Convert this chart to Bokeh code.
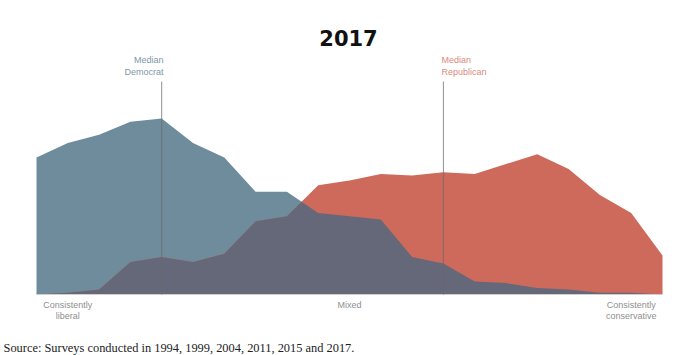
import numpy as np
from bokeh.plotting import figure
from bokeh.models import Label, Range1d
from bokeh.embed import file_html
from bokeh.resources import INLINE

# Ideological consistency scale (-10 = consistently liberal, +10 = consistently conservative)
scale = list(range(-10, 11))
# Share of each party at each scale point (%), 2017
democrats = [8.4, 9.3, 9.8, 10.6, 10.8, 9.3, 8.4, 6.3, 6.3, 5.0, 4.8, 4.6, 2.3, 1.9, 0.8, 0.7, 0.4, 0.3, 0.1, 0.1, 0.0]
republicans = [0.0, 0.1, 0.3, 2.0, 2.3, 2.0, 2.5, 4.5, 4.8, 6.7, 7.0, 7.4, 7.3, 7.5, 7.4, 8.0, 8.6, 7.7, 6.1, 5.0, 2.4]
median_dem = -6
median_rep = 3
title = "2017"
source = "Source: Surveys conducted in 1994, 1999, 2004, 2011, 2015 and 2017."

DEM = "#6f8c9d"
REP = "#cd6a5c"
BOTH = "#656878"

W, H = 696, 355
px_per_x = 626 / 20.0
px_per_y = 16.3
x0_px, base_px = 36, 294

def ypx(py):
    return (base_px - py) / px_per_y

p = figure(width=W, height=H, output_backend="svg", toolbar_location=None,
           min_border=0, x_axis_type=None, y_axis_type=None)
p.x_range = Range1d(-10 - x0_px / px_per_x, 10 + (W - x0_px - 626) / px_per_x)
p.y_range = Range1d(-(H - base_px) / px_per_y, base_px / px_per_y)
p.grid.visible = False
p.outline_line_color = None
p.background_fill_color = "white"
p.border_fill_color = "white"

x = np.array(scale, dtype=float)
d = np.array(democrats)
r = np.array(republicans)

# overlap = pointwise minimum of the two piecewise-linear curves (with crossing points)
ox, oy = [x[0]], [min(d[0], r[0])]
for i in range(len(x) - 1):
    a0 = d[i] - r[i]
    a1 = d[i + 1] - r[i + 1]
    if a0 * a1 < 0:
        t = a0 / (a0 - a1)
        xc = x[i] + t * (x[i + 1] - x[i])
        yc = d[i] + t * (d[i + 1] - d[i])
        ox.append(xc)
        oy.append(yc)
    ox.append(x[i + 1])
    oy.append(min(d[i + 1], r[i + 1]))

p.varea(x=x, y1=0, y2=d, fill_color=DEM)
p.varea(x=x, y1=0, y2=r, fill_color=REP)
p.varea(x=ox, y1=0, y2=oy, fill_color=BOTH)

p.line(x=[x[0], x[-1]], y=[0, 0], line_color="#cfcfcf", line_width=1)

top = ypx(81)
for m in (median_dem, median_rep):
    p.line(x=[m, m], y=[0, top], line_color="#6a6a6a", line_alpha=0.75, line_width=1)

FONT = "Liberation Sans"

def lab(xv, yv, text, size, color, align="center", style="normal", font=FONT, units="data"):
    p.add_layout(Label(x=xv, y=yv, text=text, text_font=font, text_font_size=size,
                       text_color=color, text_align=align, text_baseline="middle",
                       text_font_style=style, x_units=units, y_units=units))

lab(348, H - 37, title, "21px", "#111111", style="bold", font="DejaVu Sans", units="screen")

lab(median_dem + 0.06, ypx(59.5), "Median", "9px", "#7d97a8", align="right")
lab(median_dem + 0.06, ypx(71.5), "Democrat", "9px", "#7d97a8", align="right")
lab(median_rep - 0.06, ypx(59.5), "Median", "9px", "#d98b80", align="left")
lab(median_rep - 0.06, ypx(71.5), "Republican", "9px", "#d98b80", align="left")

AX = "#8f8f8f"
lab(-9, ypx(304), "Consistently", "9px", AX)
lab(-9, ypx(315), "liberal", "9px", AX)
lab(0, ypx(304), "Mixed", "9px", AX)
lab(9, ypx(304), "Consistently", "9px", AX)
lab(9, ypx(315), "conservative", "9px", AX)

lab(3, H - 347, source, "12.4px", "#222222", align="left", font="Liberation Serif", units="screen")

open("out.html", "w").write(file_html(p, INLINE))
